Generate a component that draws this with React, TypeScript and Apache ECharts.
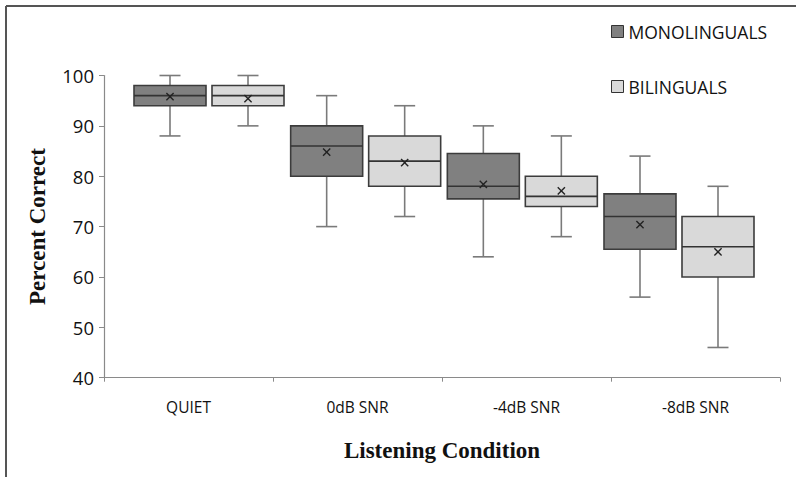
import React, { useEffect, useRef } from "react";
import * as echarts from "echarts";

const conditions = ["QUIET", "0dB SNR", "-4dB SNR", "-8dB SNR"];
const groupNames = ["MONOLINGUALS", "BILINGUALS"];
const yTicks = [40, 50, 60, 70, 80, 90, 100];

const monoMin = [88, 70, 64, 56];
const monoQ1 = [94, 80, 75.5, 65.5];
const monoMedian = [96, 86, 78, 72];
const monoQ3 = [98, 90, 84.5, 76.5];
const monoMax = [100, 96, 90, 84];
const monoMean = [95.8, 84.8, 78.4, 70.4];

const biMin = [90, 72, 68, 46];
const biQ1 = [94, 78, 74, 60];
const biMedian = [96, 83, 76, 66];
const biQ3 = [98, 88, 80, 72];
const biMax = [100, 94, 88, 78];
const biMean = [95.4, 82.7, 77.1, 65.0];

const FONT = "'Open Sans', 'Noto Sans', sans-serif";
const SERIF = "'Liberation Serif', 'DejaVu Serif', serif";

function buildRows(mn: number[], q1: number[], md: number[], q3: number[], mx: number[], mean: number[]) {
  return conditions.map((_, i) => [i, mn[i], q1[i], md[i], q3[i], mx[i], mean[i]]);
}

function makeRenderItem(offset: number) {
  const halfBox = 36;
  const halfCap = 10.5;
  const halfX = 3.6;
  return (params: any, api: any) => {
    const xi = api.value(0);
    const lo = api.value(1);
    const q1 = api.value(2);
    const md = api.value(3);
    const q3 = api.value(4);
    const hi = api.value(5);
    const mean = api.value(6);
    const cx = api.coord([xi, md])[0] + offset;
    const y = (v: number) => api.coord([xi, v])[1];
    const fill = api.visual("color");
    const whisker = { stroke: "#7a7a7a", lineWidth: 1.6 };
    const edge = "#3c3c3c";
    const ym = y(mean);
    return {
      type: "group",
      children: [
        { type: "line", shape: { x1: cx, y1: y(hi), x2: cx, y2: y(q3) }, style: whisker },
        { type: "line", shape: { x1: cx, y1: y(q1), x2: cx, y2: y(lo) }, style: whisker },
        { type: "line", shape: { x1: cx - halfCap, y1: y(hi), x2: cx + halfCap, y2: y(hi) }, style: whisker },
        { type: "line", shape: { x1: cx - halfCap, y1: y(lo), x2: cx + halfCap, y2: y(lo) }, style: whisker },
        {
          type: "rect",
          shape: { x: cx - halfBox, y: y(q3), width: halfBox * 2, height: y(q1) - y(q3) },
          style: { fill, stroke: edge, lineWidth: 1.6 },
        },
        { type: "line", shape: { x1: cx - halfBox, y1: y(md), x2: cx + halfBox, y2: y(md) }, style: { stroke: "#333", lineWidth: 1.6 } },
        { type: "line", shape: { x1: cx - halfX, y1: ym - halfX, x2: cx + halfX, y2: ym + halfX }, style: { stroke: "#222", lineWidth: 1.4 } },
        { type: "line", shape: { x1: cx - halfX, y1: ym + halfX, x2: cx + halfX, y2: ym - halfX }, style: { stroke: "#222", lineWidth: 1.4 } },
      ],
    };
  };
}

export default function App() {
  const ref = useRef<HTMLDivElement>(null);
  useEffect(() => {
    if (!ref.current) return;
    const chart = echarts.init(ref.current, null, { renderer: "svg" });
    const top = 75.5;
    const bottom = 477 - 377.7;
    const option: any = {
      animation: false,
      backgroundColor: "#ffffff",
      legend: {
        data: groupNames,
        orient: "vertical",
        left: 611,
        top: 22.5,
        padding: 0,
        itemGap: 37,
        itemWidth: 12,
        itemHeight: 12,
        icon: "rect",
        itemStyle: { borderColor: "#333", borderWidth: 1 },
        textStyle: { fontFamily: FONT, fontSize: 17.5, color: "#111", lineHeight: 16 },
      },
      grid: [
        { left: 104, right: 16, top, bottom },
        { left: 130.67, right: 38.67, top, bottom },
      ],
      xAxis: [
        {
          type: "category",
          gridIndex: 0,
          data: conditions,
          boundaryGap: true,
          axisLine: { lineStyle: { color: "#8a8a8a", width: 1.2 } },
          axisTick: { show: true, length: 4, lineStyle: { color: "#8a8a8a" } },
          axisLabel: { fontFamily: FONT, fontSize: 15.5, color: "#111", margin: 21 },
          name: "Listening Condition",
          nameLocation: "middle",
          nameGap: 61,
          nameTextStyle: { fontFamily: SERIF, fontWeight: "bold", fontSize: 23, color: "#111" },
        },
        {
          type: "category",
          gridIndex: 1,
          data: conditions,
          show: false,
        },
      ],
      yAxis: [
        {
          type: "value",
          gridIndex: 0,
          min: 40,
          max: 100,
          interval: 10,
          splitLine: { show: false },
          axisLine: { show: true, lineStyle: { color: "#8a8a8a", width: 1.2 } },
          axisTick: { show: true, length: 5, lineStyle: { color: "#8a8a8a" } },
          axisLabel: {
            fontFamily: FONT,
            fontSize: 18.5,
            color: "#111",
            margin: 10,
            formatter: (v: number) => (yTicks.includes(v) ? String(v) : ""),
          },
          name: "Percent Correct",
          nameLocation: "middle",
          nameRotate: 90,
          nameGap: 55,
          nameTextStyle: { fontFamily: SERIF, fontWeight: "bold", fontSize: 23, color: "#111" },
        },
        { type: "value", gridIndex: 1, min: 40, max: 100, interval: 10, show: false },
      ],
      series: [
        {
          name: groupNames[0],
          type: "custom",
          xAxisIndex: 1,
          yAxisIndex: 1,
          itemStyle: { color: "#808080", borderColor: "#333", borderWidth: 1 },
          encode: { x: 0, y: [1, 2, 3, 4, 5, 6] },
          data: buildRows(monoMin, monoQ1, monoMedian, monoQ3, monoMax, monoMean),
          renderItem: makeRenderItem(-39),
        },
        {
          name: groupNames[1],
          type: "custom",
          xAxisIndex: 1,
          yAxisIndex: 1,
          itemStyle: { color: "#d9d9d9", borderColor: "#333", borderWidth: 1 },
          encode: { x: 0, y: [1, 2, 3, 4, 5, 6] },
          data: buildRows(biMin, biQ1, biMedian, biQ3, biMax, biMean),
          renderItem: makeRenderItem(39),
        },
      ],
      graphic: [
        { type: "line", shape: { x1: 6, y1: 6, x2: 796, y2: 6 }, style: { stroke: "#555", lineWidth: 2 } },
        { type: "line", shape: { x1: 6, y1: 6, x2: 6, y2: 477 }, style: { stroke: "#555", lineWidth: 2 } },
      ],
    };
    chart.setOption(option);
    return () => chart.dispose();
  }, []);
  return (
    <div
      ref={ref}
      style={{ position: "fixed", left: 0, top: 0, width: 796, height: 477, background: "#fff" }}
    />
  );
}
